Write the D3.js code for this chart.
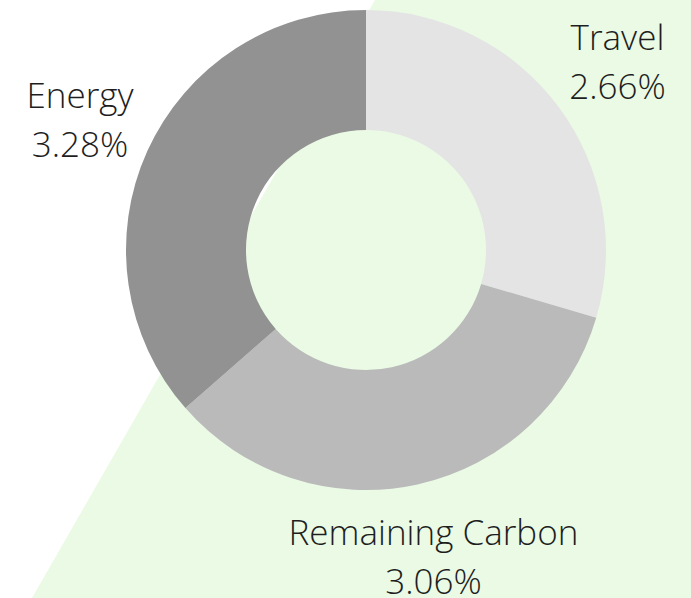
<!DOCTYPE html>
<html>
<head>
<meta charset="utf-8">
<script src="https://cdn.jsdelivr.net/npm/d3@7"></script>
<style>
  html, body { margin: 0; padding: 0; background: #fff; }
  svg { display: block; }
</style>
</head>
<body>
<svg id="chart"></svg>
<script>
/* --- Data --- */
var categories = ["Travel", "Remaining Carbon", "Energy"];
var values = [2.66, 3.06, 3.28];
var slice_colors = ["#e4e4e4", "#bababa", "#929292"];

/* --- Layout --- */
var width = 691;
var height = 598;
var cx = 366, cy = 250;
var outer_r = 240, inner_r = 120, label_r = 314;

var svg = d3.select("#chart").attr("width", width).attr("height", height);

// green backdrop shape behind the donut
var backdrop = [[375, 0], [width, 0], [width, height], [32, height]];
svg.append("polygon")
  .attr("points", backdrop.map(p => p.join(",")).join(" "))
  .attr("fill", "#eafae5");

var rows = categories.map((c, i) => ({name: c, value: values[i], color: slice_colors[i]}));

var pie = d3.pie().sort(null).value(d => d.value);
var arc = d3.arc().innerRadius(inner_r).outerRadius(outer_r);
var label_arc = d3.arc().innerRadius(label_r).outerRadius(label_r);

var g = svg.append("g").attr("transform", "translate(" + cx + "," + cy + ")");

g.selectAll("path")
  .data(pie(rows))
  .join("path")
  .attr("d", arc)
  .attr("fill", d => d.data.color);

var labels = g.selectAll("text")
  .data(pie(rows))
  .join("text")
  .attr("transform", d => "translate(" + label_arc.centroid(d) + ")")
  .attr("text-anchor", "middle")
  .attr("font-family", "'Open Sans', sans-serif")
  .attr("font-weight", 300)
  .attr("font-size", 35)
  .attr("fill", "#1e1e1e");

labels.append("tspan").attr("x", 0).attr("y", -12).text(d => d.data.name);
labels.append("tspan").attr("x", 0).attr("y", 37).text(d => d.data.value.toFixed(2) + "%");
</script>
</body>
</html>
